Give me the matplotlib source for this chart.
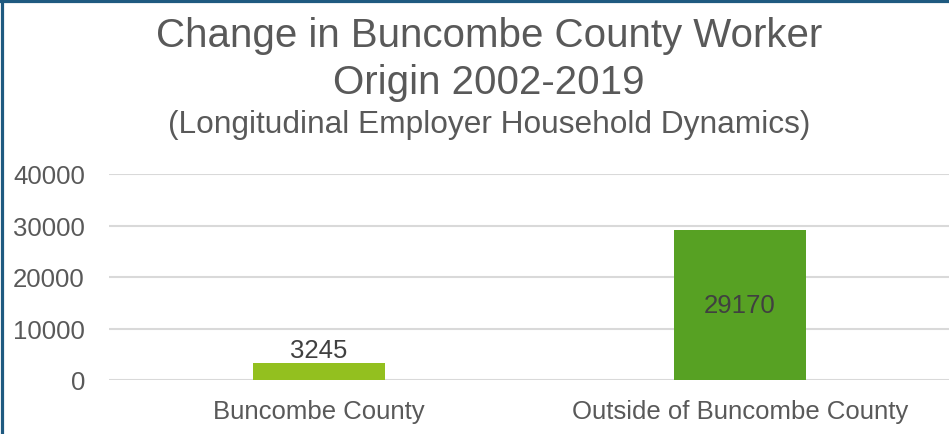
import matplotlib
matplotlib.use("Agg")
import matplotlib.pyplot as plt
from matplotlib.lines import Line2D

categories = ["Buncombe County", "Outside of Buncombe County"]
values = [3245, 29170]
yticks = [0, 10000, 20000, 30000, 40000]
bar_colors = ["#93c01f", "#57a123"]

plt.rcParams["font.family"] = ["Liberation Sans", "DejaVu Sans"]
GRAY = "#595959"

W, H = 949, 435
fig = plt.figure(figsize=(W / 100, H / 100), dpi=100)
fig.patch.set_facecolor("white")

ax = fig.add_axes([108.5 / W, 1 - 381 / H, 842 / W, 206 / H])
x = list(range(len(categories)))
bars = ax.bar(x, values, width=0.313, color=bar_colors, zorder=3)

ax.set_xlim(-0.5, 1.5)
ax.set_ylim(0, 40000)
ax.set_yticks(yticks)
ax.set_yticklabels([str(v) for v in yticks])
ax.set_xticks(x)
ax.set_xticklabels(categories)
ax.tick_params(axis="y", length=0, pad=17, labelsize=18.5, labelcolor=GRAY)
ax.tick_params(axis="x", length=0, pad=14, labelsize=18.5, labelcolor=GRAY)
for s in ax.spines.values():
    s.set_visible(False)
ax.yaxis.grid(True, color="#d9d9d9", linewidth=1.5, zorder=0)
ax.set_axisbelow(True)

# value labels: small bar gets label above, tall bar inside
ax.annotate(str(values[0]), (x[0], values[0]), xytext=(0, 1), textcoords="offset points",
            ha="center", va="bottom", fontsize=18.5, color="#404040")
ax.text(x[1], values[1] / 2, str(values[1]), ha="center", va="center",
        fontsize=18.5, color="#404040")

cx = 489 / W
fig.text(cx, 1 - 47 / H, "Change in Buncombe County Worker", ha="center", va="baseline",
         fontsize=29, color=GRAY)
fig.text(cx, 1 - 94 / H, "Origin 2002-2019", ha="center", va="baseline",
         fontsize=29, color=GRAY)
fig.text(cx, 1 - 133 / H, "(Longitudinal Employer Household Dynamics)", ha="center",
         va="baseline", fontsize=22.8, color=GRAY)

# frame edges along the left and top
fig.add_artist(Line2D([1.5 / W, 1.5 / W], [0, 1], color="#1f5a80", linewidth=2.3,
                      transform=fig.transFigure))
fig.add_artist(Line2D([0, 1], [1 - 1.5 / H, 1 - 1.5 / H], color="#1f5a80", linewidth=2.3,
                      transform=fig.transFigure))

fig.savefig("out.png", dpi=100)
